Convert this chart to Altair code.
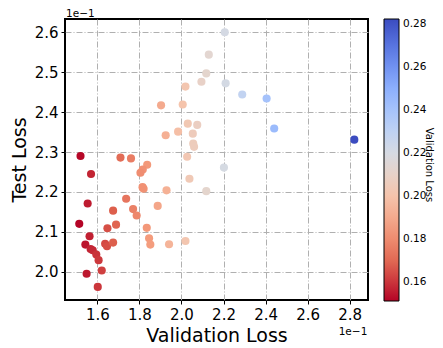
import altair as alt
import pandas as pd
import numpy as np

# Validation loss (x) and test loss (y), actual values (axes show x10^-1 offset)
val_loss = [0.2130, 0.2118, 0.2095, 0.2019, 0.1903, 0.2006, 0.2030, 0.2075, 0.1925, 0.1984,
            0.2054, 0.2056, 0.2060, 0.1520, 0.1710, 0.1760, 0.2027, 0.2206, 0.2210, 0.2289,
            0.2405, 0.2441, 0.2822, 0.1570, 0.1837, 0.1816, 0.1805, 0.2038, 0.1554, 0.1820,
            0.1929, 0.2118, 0.1737, 0.1887, 0.1770, 0.1675, 0.1787, 0.1514, 0.1689, 0.1648,
            0.1835, 0.1563, 0.1846, 0.1543, 0.1637, 0.1646, 0.1675, 0.1852, 0.1941, 0.2019,
            0.1568, 0.1578, 0.1595, 0.1606, 0.1621, 0.1549, 0.1602, 0.2202, 0.1815]
test_loss = [0.2544, 0.2497, 0.2476, 0.2464, 0.2417, 0.2419, 0.2371, 0.2368, 0.2342, 0.2351,
             0.2346, 0.2321, 0.2313, 0.2290, 0.2286, 0.2284, 0.2288, 0.2600, 0.2472, 0.2444,
             0.2434, 0.2359, 0.2331, 0.2245, 0.2268, 0.2256, 0.2248, 0.2233, 0.2171, 0.2208,
             0.2204, 0.2202, 0.2183, 0.2165, 0.2157, 0.2153, 0.2141, 0.2120, 0.2118, 0.2109,
             0.2110, 0.2089, 0.2084, 0.2068, 0.2070, 0.2064, 0.2073, 0.2068, 0.2069, 0.2077,
             0.2057, 0.2054, 0.2043, 0.2029, 0.2003, 0.1995, 0.1962, 0.2261, 0.2212]

x_ticks = [0.16, 0.18, 0.20, 0.22, 0.24, 0.26, 0.28]
y_ticks = [0.20, 0.21, 0.22, 0.23, 0.24, 0.25, 0.26]
cbar_ticks = [0.16, 0.18, 0.20, 0.22, 0.24, 0.26, 0.28]

# coolwarm reversed
cmap = ["#b40426", "#de604d", "#f49a7b", "#f5c4ac", "#dddcdc",
        "#b8d0f9", "#8db0fe", "#6282ea", "#3b4cc0"]

df = pd.DataFrame({"val": val_loss, "test": test_loss})
cmin, cmax = min(val_loss), max(val_loss)
stops = [float(v) for v in np.linspace(cmin, cmax, len(cmap))]

W, H = 303, 281

points = alt.Chart(df).mark_circle(size=66, opacity=1).encode(
    x=alt.X("val:Q",
            scale=alt.Scale(domain=[0.14462, 0.28871], nice=False, zero=False),
            axis=alt.Axis(values=x_ticks, labelExpr="format(datum.value*10, '.1f')",
                          title="Validation Loss", titlePadding=4)),
    y=alt.Y("test:Q",
            scale=alt.Scale(domain=[0.19292, 0.26333], nice=False, zero=False),
            axis=alt.Axis(values=y_ticks, labelExpr="format(datum.value*10, '.1f')",
                          title="Test Loss", titlePadding=5)),
    color=alt.Color("val:Q",
                    scale=alt.Scale(domain=stops, range=cmap, interpolate="rgb"),
                    title=None,
                    legend=alt.Legend(orient="none", legendX=319, legendY=0,
                                      direction="vertical", values=cbar_ticks,
                                      format=".2f", gradientLength=282,
                                      gradientThickness=15,
                                      gradientStrokeColor="black",
                                      gradientStrokeWidth=1,
                                      labelFontSize=10.5, labelColor="black",
                                      labelOffset=4, labelOverlap=False,
                                      padding=0)),
)

def label(txt, x, y, size, angle=0, align="center"):
    return alt.Chart(pd.DataFrame({"t": [txt]})).mark_text(
        fontSize=size, angle=angle, align=align, baseline="middle", color="black"
    ).encode(x=alt.value(x), y=alt.value(y), text="t:N")

cbar_title = label("Validation Loss", 364, 146, 10, angle=90)
off_top = label("1e\u22121", 1, -5, 10.5, align="left")
off_bottom = label("1e\u22121", 288, 313, 10.5)

chart = alt.layer(points, cbar_title, off_top, off_bottom).properties(
    width=W, height=H,
    autosize=alt.AutoSizeParams(type="none"),
    padding={"left": 57, "top": 11, "right": 67, "bottom": 45},
).configure(
    font="DejaVu Sans",
    background="white",
).configure_view(
    stroke="black", strokeWidth=2
).configure_axis(
    domain=False,
    grid=True, gridColor="#b0b0b0", gridDash=[6, 2, 1, 2], gridWidth=1,
    ticks=True, tickColor="black", tickSize=4, tickWidth=1,
    labelFontSize=15, labelColor="black", labelPadding=3, labelFont="DejaVu Sans",
    titleFontSize=19, titleFontWeight="normal", titleColor="black", titleFont="DejaVu Sans",
)

chart.save("out.html", embed_options={"renderer": "svg", "actions": False})
